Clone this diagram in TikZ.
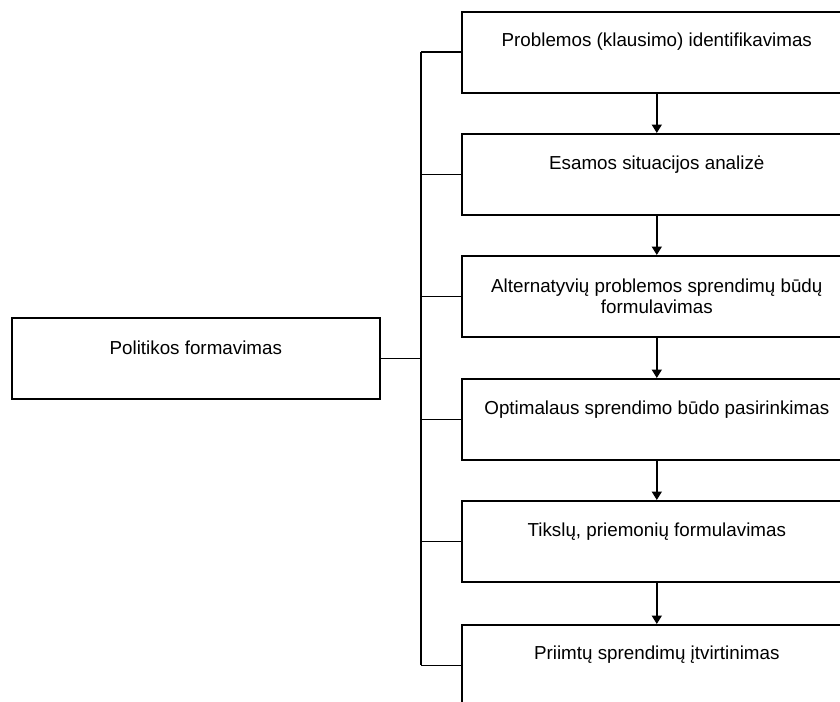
\documentclass[tikz,border=0pt]{standalone}
\usepackage{fontspec}
\setmainfont{Liberation Sans}
\usetikzlibrary{arrows.meta}
\begin{document}
\begin{tikzpicture}[x=1pt,y=-1pt, line width=1.6pt,
 stepbox/.style={draw, line width=1.6pt, minimum width=390pt, minimum height=81pt, inner sep=0pt, anchor=north west},
 lbl/.style={font=\fontsize{18.8}{20.5}\selectfont, align=center, inner sep=0pt},
 arr/.style={-{Triangle[width=10pt,length=8.5pt]}}]
\useasboundingbox (0,0) rectangle (840,701);
\clip (0,0) rectangle (840,701);
% left box
\node[stepbox, minimum width=368pt] (p) at (11,317) {};
\node[lbl] (tp) at ([yshift=-30.5pt]p.north) {Politikos formavimas};
% step boxes
\node[stepbox] (s1) at (461,11) {};
\node[stepbox] (s2) at (461,133) {};
\node[stepbox] (s3) at (461,255) {};
\node[stepbox] (s4) at (461,378) {};
\node[stepbox] (s5) at (461,500) {};
\node[stepbox] (s6) at (461,624) {};
\node[lbl] (t1) at ([yshift=-30.5pt]s1.north) {Problemos (klausimo) identifikavimas};
\node[lbl] (t2) at ([yshift=-32pt]s2.north) {Esamos situacijos analizė};
\node[lbl] (t3) at ([yshift=-41.5pt]s3.north) {Alternatyvių problemos sprendimų būdų\\formulavimas};
\node[lbl] (t4) at ([yshift=-32pt]s4.north) {Optimalaus sprendimo būdo pasirinkimas};
\node[lbl] (t5) at ([yshift=-31.5pt]s5.north) {Tikslų, priemonių formulavimas};
\node[lbl] (t6) at ([yshift=-31pt]s6.north) {Priimtų sprendimų įtvirtinimas};
% arrows
\draw[arr] (s1.south) -- (s2.north);
\draw[arr] (s2.south) -- (s3.north);
\draw[arr] (s3.south) -- (s4.north);
\draw[arr] (s4.south) -- (s5.north);
\draw[arr] (s5.south) -- (s6.north);
% bus
\draw (s1.west) -- ++(-40,0) coordinate (b1);
\draw (s2.west) -- ++(-40,0) coordinate (b2);
\draw (s3.west) -- ++(-40,0) coordinate (b3);
\draw (s4.west) -- ++(-40,0) coordinate (b4);
\draw (s5.west) -- ++(-40,0) coordinate (b5);
\draw (s6.west) -- ++(-40,0) coordinate (b6);
\draw (b1) -- (b6);
\draw (p.east) -- (p.east -| b1);
\end{tikzpicture}
\end{document}
